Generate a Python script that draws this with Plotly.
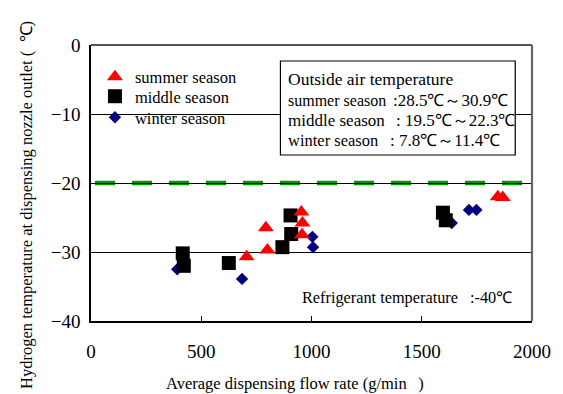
import plotly.graph_objects as go

# ---- data ----
summer_flow = [706, 793, 800, 954, 959, 957, 1845, 1867]
summer_temp = [-30.7, -26.5, -29.7, -24.2, -25.8, -27.5, -22.0, -22.1]

middle_flow = [416, 421, 625, 868, 905, 908, 1596, 1609]
middle_temp = [-30.2, -32.0, -31.6, -29.3, -24.7, -27.4, -24.3, -25.4]

winter_flow = [391, 685, 1004, 1007, 1636, 1714, 1748]
winter_temp = [-32.5, -33.9, -27.8, -29.3, -25.8, -23.9, -23.9]

threshold_temp = -20
x_ticks = [0, 500, 1000, 1500, 2000]
y_ticks = [-40, -30, -20, -10, 0]

SERIF = "Liberation Serif, Times New Roman, serif"

def px_x(p):
    return (p - 91) / 447.0

def px_y(p):
    return (321 - p) / 276.0

fig = go.Figure()

# draw order: winter, middle, summer
fig.add_trace(go.Scatter(
    x=winter_flow, y=winter_temp, mode="markers", name="winter season", legend="legend3",
    marker=dict(symbol="diamond", size=9.5, color="#000080", line=dict(width=0))))
fig.add_trace(go.Scatter(
    x=middle_flow, y=middle_temp, mode="markers", name="middle season", legend="legend2",
    marker=dict(symbol="square", size=14, color="#000000", line=dict(width=0))))
fig.add_trace(go.Scatter(
    x=summer_flow, y=summer_temp, mode="markers", name="summer season", legend="legend",
    marker=dict(symbol="triangle-up", size=14, color="#FF0000", line=dict(width=0))))

# green dashed reference line
fig.add_hline(y=threshold_temp, line=dict(color="#009900", width=4.5, dash="0px,4px,20px,13px"),
              layer="below")

shapes = [
    dict(type="rect", xref="paper", yref="paper", x0=px_x(103), x1=px_x(247),
         y0=px_y(131), y1=px_y(61), fillcolor="white", line=dict(color="black", width=1.2),
         layer="above"),
    dict(type="rect", xref="paper", yref="paper", x0=px_x(283), x1=px_x(521),
         y0=px_y(155), y1=px_y(61), fillcolor="white", line=dict(color="black", width=1.2),
         layer="above"),
    dict(type="line", xref="paper", yref="paper", x0=0, x1=1, y0=1, y1=1,
         line=dict(color="#555555", width=2), layer="above"),
    dict(type="line", xref="paper", yref="paper", x0=1, x1=1, y0=0, y1=1,
         line=dict(color="#666666", width=2.2), layer="above"),
]

def txt(s, x, y, size=17, **kw):
    d = dict(text=s, xref="paper", yref="paper", x=px_x(x), y=px_y(y),
             xanchor="left", yanchor="middle", showarrow=False,
             font=dict(family=SERIF, size=size, color="black"), borderpad=0)
    d.update(kw)
    return d

annotations = [
    txt("Outside air temperature", 290, 79, size=17.5),
    txt("summer season", 290, 100.5, size=16),
    txt(":28.5℃～30.9℃", 396, 100.5),
    txt("middle season", 290, 120),
    txt(": 19.5℃～22.3℃", 399, 120),
    txt("winter season", 290, 140, size=16.5),
    txt(": 7.8℃～11.4℃", 393, 140),
    txt("Refrigerant temperature", 304, 297, size=16.3),
    txt(":-40℃", 474, 297, size=16.3),
    dict(text="Average dispensing flow rate (g/min\u2002\u2009)", xref="paper", yref="paper",
         x=px_x(297.5), y=px_y(383), xanchor="center", yanchor="middle", showarrow=False,
         font=dict(family=SERIF, size=16.5, color="black")),
    dict(text="Hydrogen temperature at dispensing nozzle outlet (\u2002℃)", xref="paper",
         yref="paper", x=px_x(25), y=px_y(205), xanchor="center", yanchor="middle",
         showarrow=False, textangle=-90, font=dict(family=SERIF, size=16.5, color="black")),
]

leg_common = dict(xanchor="left", yanchor="top", bgcolor="rgba(0,0,0,0)", borderwidth=0,
                  font=dict(family=SERIF, size=16.5, color="black"))

fig.update_layout(
    width=563, height=394,
    margin=dict(l=91, r=25, t=45, b=73, pad=0),
    paper_bgcolor="white", plot_bgcolor="white",
    font=dict(family=SERIF, size=19, color="black"),
    showlegend=True,
    legend=dict(x=px_x(95), y=px_y(59.5), **leg_common),
    legend2=dict(x=px_x(95), y=px_y(79), **leg_common),
    legend3=dict(x=px_x(95), y=px_y(100), **leg_common),
    shapes=shapes,
    annotations=annotations,
)

fig.update_xaxes(range=[0, 2000], tickvals=x_ticks, ticks="inside", ticklen=5,
                 tickcolor="black", tickwidth=1, showgrid=False, zeroline=False,
                 showline=True, linecolor="black", linewidth=1.5,
                 ticklabelstandoff=12, tickfont=dict(family=SERIF, size=19))
fig.update_yaxes(range=[-40, 0], tickvals=y_ticks, ticks="inside", ticklen=5,
                 tickcolor="black", tickwidth=1, showgrid=True, gridcolor="black",
                 gridwidth=1, zeroline=False, showline=True, linecolor="black",
                 linewidth=1.5, ticklabelstandoff=5, tickfont=dict(family=SERIF, size=19))

fig.write_html("out.html", config={"displayModeBar": False},
               post_script="document.body.style.margin='0px';document.body.style.overflow='hidden';")
